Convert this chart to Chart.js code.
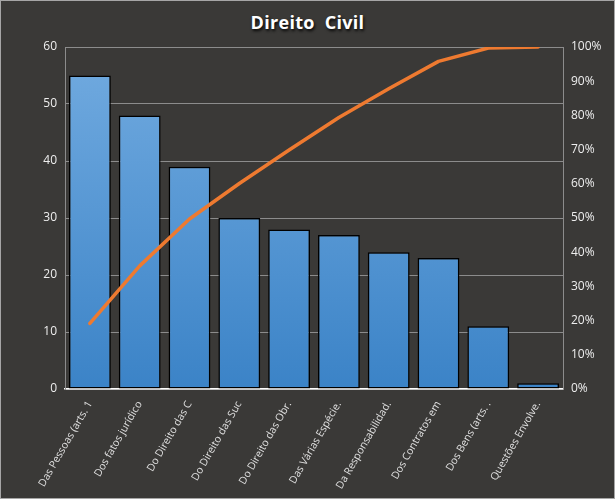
<!DOCTYPE html>
<html><head><meta charset="utf-8">
<script src="https://cdn.jsdelivr.net/npm/chart.js@4"></script>
<style>
html,body{margin:0;padding:0;background:#3a3937;}
#wrap{position:relative;width:615px;height:499px;box-sizing:border-box;border:1px solid #a6a6a6;background:#3a3937;overflow:hidden;}
#title{position:absolute;left:0;right:0;top:9px;text-align:center;color:#fff;font:700 18px "Open Sans",sans-serif;white-space:pre;letter-spacing:0.3px;text-shadow:1px 2px 3px rgba(0,0,0,0.9);}
canvas{position:absolute;left:0;top:0;}
</style></head>
<body>
<div id="wrap"><div id="title">Direito  Civil</div><canvas id="c" width="615" height="499"></canvas></div>
<script>
const categories = ["Das Pessoas (arts. 1","Dos fatos jurídico","Do Direito das C","Do Direito das Suc","Do Direito das Obr.","Das Várias Espécie.","Da Responsabilidad.","Dos Contratos em","Dos Bens (arts. .","Questões Envolve."];
const counts = [55,48,39,30,28,27,24,23,11,1];
const cumulativePct = [19.2,36.0,49.7,60.1,69.9,79.4,87.8,95.8,99.7,100];
const leftTicks = [0,10,20,30,40,50,60];
const rightTicks = [0,10,20,30,40,50,60,70,80,90,100];

const FONT = {family:"'Open Sans', sans-serif", size:10.5};
const W=615,H=499, L=64, R=562, T=46, B=388;

function barGrad(ctx){
  const ch = ctx.chart, a = ch.chartArea;
  if(!a) return '#4a8fd0';
  const g = ch.ctx.createLinearGradient(0,a.top,0,a.bottom);
  g.addColorStop(0,'#72abe0');
  g.addColorStop(1,'#3b83c7');
  return g;
}

new Chart(document.getElementById('c'),{
  data:{
    labels:categories,
    datasets:[
      {type:'line',data:cumulativePct,yAxisID:'y2',borderColor:'#ee7a30',borderWidth:3.5,pointRadius:0,tension:0,order:0,borderCapStyle:'round',borderJoinStyle:'round'},
      {type:'bar',data:counts,yAxisID:'y',backgroundColor:barGrad,borderColor:'#000',borderWidth:1.5,borderSkipped:false,categoryPercentage:1,barPercentage:0.84,order:1}
    ]
  },
  options:{
    responsive:false,animation:false,devicePixelRatio:1,
    layout:{padding:{top:T,left:0,right:0,bottom:0}},
    plugins:{legend:{display:false},title:{display:false},tooltip:{enabled:false}},
    scales:{
      x:{
        grid:{display:false},
        border:{display:true,color:'#ffffff',width:1.5},
        ticks:{color:'#e0e0e0',font:FONT,minRotation:60,maxRotation:60,padding:2,autoSkip:false},
        afterFit(s){s.height=H-B;}
      },
      y:{
        position:'left',min:0,max:60,
        afterBuildTicks(s){s.ticks=leftTicks.map(v=>({value:v}));},
        grid:{color:'#8c8c8c',lineWidth:1,drawTicks:false},
        border:{display:true,color:'#8c8c8c'},
        ticks:{color:'#eeeeee',font:{...FONT,size:12},padding:8},
        afterFit(s){s.width=L;}
      },
      y2:{
        position:'right',min:0,max:100,
        afterBuildTicks(s){s.ticks=rightTicks.map(v=>({value:v}));},
        grid:{display:false,drawTicks:false},
        border:{display:true,color:'#8c8c8c'},
        ticks:{color:'#eeeeee',font:{...FONT,size:12},padding:8,callback:v=>v+'%'},
        afterFit(s){s.width=W-R;}
      }
    }
  }
});
</script>
</body></html>
